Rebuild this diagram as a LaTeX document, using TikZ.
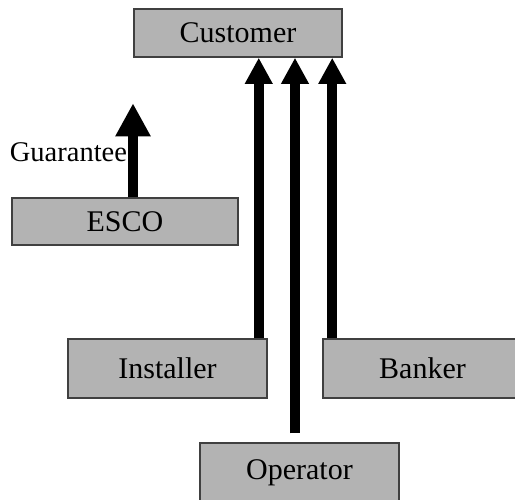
\documentclass[tikz,border=0pt]{standalone}
\usepackage{fontspec}
\setmainfont{Liberation Serif}
\usepackage{tikz}
\usetikzlibrary{arrows.meta,positioning}

\definecolor{boxgray}{RGB}{179,179,179}
\tikzset{
    party/.style={draw=black!75, line width=1.5pt, fill=boxgray, inner sep=0pt,
        font=\fontsize{30}{36}\selectfont},
    flow/.style={line width=10pt, -{Triangle[width=26pt,length=26pt]}},
}

\begin{document}
\begin{tikzpicture}[x=1pt,y=-1pt]
    \useasboundingbox (0,0) rectangle (515,499);
    \clip (0,0) rectangle (515,499);

    % Parties
    \node[party, minimum width=208pt, minimum height=48pt] (cust) at (238,33) {Customer};
    \node[party, minimum width=226pt, minimum height=47pt] (esco) at (125,221.5) {ESCO};
    \node[party, minimum width=199pt, minimum height=59pt] (inst) at (167.5,368.5) {Installer};
    \node[party, minimum width=199pt, minimum height=59pt] (bank) at (422.5,368.5) {Banker};
    \node[party, minimum width=199pt, minimum height=59pt] (oper) at (299.5,472.5) {Operator};

    % Guarantee
    \coordinate (gtip) at ([xshift=8pt,yshift=94pt]esco.north);
    \draw[flow, -{Triangle[width=33pt,length=33pt]}] ([xshift=8pt]esco.north) -- (gtip)
        node[pos=0.48, left=1pt, inner sep=0pt, font=\fontsize{28.5}{34}\selectfont] {Guarantee};

    % Flows to the customer
    \draw[flow] ([xshift=-9pt]inst.north east) -- ([xshift=-9pt]inst.north east |- cust.south);
    \draw[flow] ([xshift=-4.5pt,yshift=9pt]oper.north) -- ([xshift=-4.5pt]oper.north |- cust.south);
    \draw[flow] ([xshift=10pt]bank.north west) -- ([xshift=10pt]bank.north west |- cust.south);
\end{tikzpicture}
\end{document}
